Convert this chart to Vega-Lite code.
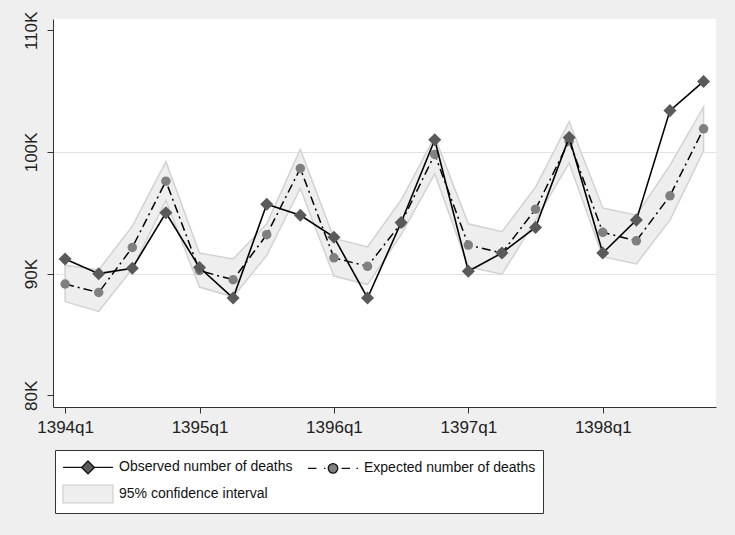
{
  "$schema": "https://vega.github.io/schema/vega-lite/v6.json",
  "width": 663,
  "height": 388,
  "autosize": {"type": "none"},
  "padding": {"left": 53, "top": 19, "right": 19, "bottom": 128},
  "background": "#efefef",
  "view": {"fill": "white", "stroke": null},
  "config": {"view": {"fill": "white", "stroke": null}, "font": "Liberation Sans"},
  "datasets": {
    "series": [
      {"i": 0, "series": "Expected number of deaths", "value": 89150},
      {"i": 1, "series": "Expected number of deaths", "value": 88450},
      {"i": 2, "series": "Expected number of deaths", "value": 92150},
      {"i": 3, "series": "Expected number of deaths", "value": 97600},
      {"i": 4, "series": "Expected number of deaths", "value": 90250},
      {"i": 5, "series": "Expected number of deaths", "value": 89500},
      {"i": 6, "series": "Expected number of deaths", "value": 93200},
      {"i": 7, "series": "Expected number of deaths", "value": 98650},
      {"i": 8, "series": "Expected number of deaths", "value": 91300},
      {"i": 9, "series": "Expected number of deaths", "value": 90600},
      {"i": 10, "series": "Expected number of deaths", "value": 94150},
      {"i": 11, "series": "Expected number of deaths", "value": 99800},
      {"i": 12, "series": "Expected number of deaths", "value": 92350},
      {"i": 13, "series": "Expected number of deaths", "value": 91700},
      {"i": 14, "series": "Expected number of deaths", "value": 95300},
      {"i": 15, "series": "Expected number of deaths", "value": 100900},
      {"i": 16, "series": "Expected number of deaths", "value": 93400},
      {"i": 17, "series": "Expected number of deaths", "value": 92700},
      {"i": 18, "series": "Expected number of deaths", "value": 96400},
      {"i": 19, "series": "Expected number of deaths", "value": 101900},
      {"i": 0, "series": "Observed number of deaths", "value": 91200},
      {"i": 1, "series": "Observed number of deaths", "value": 90000},
      {"i": 2, "series": "Observed number of deaths", "value": 90450},
      {"i": 3, "series": "Observed number of deaths", "value": 95000},
      {"i": 4, "series": "Observed number of deaths", "value": 90500},
      {"i": 5, "series": "Observed number of deaths", "value": 88000},
      {"i": 6, "series": "Observed number of deaths", "value": 95700},
      {"i": 7, "series": "Observed number of deaths", "value": 94800},
      {"i": 8, "series": "Observed number of deaths", "value": 93000},
      {"i": 9, "series": "Observed number of deaths", "value": 88000},
      {"i": 10, "series": "Observed number of deaths", "value": 94200},
      {"i": 11, "series": "Observed number of deaths", "value": 101000},
      {"i": 12, "series": "Observed number of deaths", "value": 90200},
      {"i": 13, "series": "Observed number of deaths", "value": 91700},
      {"i": 14, "series": "Observed number of deaths", "value": 93800},
      {"i": 15, "series": "Observed number of deaths", "value": 101200},
      {"i": 16, "series": "Observed number of deaths", "value": 91700},
      {"i": 17, "series": "Observed number of deaths", "value": 94400},
      {"i": 18, "series": "Observed number of deaths", "value": 103400},
      {"i": 19, "series": "Observed number of deaths", "value": 105800}
    ],
    "band": [
      {"i": 0, "lower": 87700, "upper": 90700},
      {"i": 1, "lower": 86900, "upper": 90300},
      {"i": 2, "lower": 90400, "upper": 93900},
      {"i": 3, "lower": 96000, "upper": 99200},
      {"i": 4, "lower": 88900, "upper": 91700},
      {"i": 5, "lower": 88100, "upper": 91200},
      {"i": 6, "lower": 91500, "upper": 94100},
      {"i": 7, "lower": 97000, "upper": 100200},
      {"i": 8, "lower": 89800, "upper": 92900},
      {"i": 9, "lower": 89100, "upper": 92200},
      {"i": 10, "lower": 93200, "upper": 96050},
      {"i": 11, "lower": 98200, "upper": 101250},
      {"i": 12, "lower": 90550, "upper": 94100},
      {"i": 13, "lower": 89950, "upper": 93450},
      {"i": 14, "lower": 94400, "upper": 97100},
      {"i": 15, "lower": 99100, "upper": 102500},
      {"i": 16, "lower": 91400, "upper": 95400},
      {"i": 17, "lower": 90800, "upper": 94800},
      {"i": 18, "lower": 94400, "upper": 98900},
      {"i": 19, "lower": 100100, "upper": 103700}
    ]
  },
  "layer": [
    {
      "data": {"name": "band"},
      "mark": {"type": "area", "fill": "#eeeeee", "stroke": "#d2d2d2", "strokeWidth": 1.5, "opacity": 1},
      "encoding": {
        "x": {
          "field": "i", "type": "quantitative",
          "scale": {"domain": [-0.36, 19.37], "nice": false, "zero": false},
          "axis": {
            "values": [0, 4, 8, 12, 16],
            "labelExpr": "'' + (1394 + datum.value / 4) + 'q1'",
            "title": null, "grid": false, "tickSize": 6,
            "labelFontSize": 17, "labelColor": "#222", "labelFont": "Liberation Sans",
            "domainColor": "#333", "tickColor": "#333", "labelPadding": 6
          }
        },
        "y": {
          "field": "lower", "type": "quantitative",
          "scale": {"domain": [79040, 110930], "nice": false, "zero": false},
          "axis": {
            "values": [80000, 90000, 100000, 110000],
            "labelExpr": "(datum.value / 1000) + 'K'",
            "title": null, "tickSize": 6,
            "labelAngle": 270, "labelAlign": "center", "labelBaseline": "bottom", "labelPadding": 7,
            "labelFontSize": 17, "labelColor": "#222", "labelFont": "Liberation Sans",
            "domainColor": "#333", "tickColor": "#333",
            "grid": true, "gridColor": "#e2e2e2",
            "gridOpacity": {"condition": {"test": "datum.value === 90000 || datum.value === 100000", "value": 1}, "value": 0}
          }
        },
        "y2": {"field": "upper"}
      }
    },
    {
      "data": {"name": "series"},
      "transform": [{"filter": "datum.series === 'Expected number of deaths'"}],
      "mark": {"type": "line", "color": "black", "strokeWidth": 1.5, "strokeDash": [9, 4, 2, 4]},
      "encoding": {
        "x": {"field": "i", "type": "quantitative"},
        "y": {"field": "value", "type": "quantitative"}
      }
    },
    {
      "data": {"name": "series"},
      "transform": [{"filter": "datum.series === 'Expected number of deaths'"}],
      "mark": {"type": "point", "shape": "circle", "filled": true, "opacity": 1, "color": "#808080", "size": 90},
      "encoding": {
        "x": {"field": "i", "type": "quantitative"},
        "y": {"field": "value", "type": "quantitative"}
      }
    },
    {
      "data": {"name": "series"},
      "transform": [{"filter": "datum.series === 'Observed number of deaths'"}],
      "mark": {"type": "line", "color": "black", "strokeWidth": 1.6},
      "encoding": {
        "x": {"field": "i", "type": "quantitative"},
        "y": {"field": "value", "type": "quantitative"}
      }
    },
    {
      "data": {"name": "series"},
      "transform": [{"filter": "datum.series === 'Observed number of deaths'"}],
      "mark": {"type": "point", "shape": "diamond", "filled": true, "opacity": 1, "color": "#5a5a5a", "size": 170},
      "encoding": {
        "x": {"field": "i", "type": "quantitative"},
        "y": {"field": "value", "type": "quantitative"}
      }
    },
    {
      "data": {"name": "series"},
      "transform": [{"filter": "datum.series === 'legend only'"}],
      "mark": {"type": "point", "filled": true, "opacity": 1},
      "encoding": {
        "x": {"field": "i", "type": "quantitative"},
        "y": {"field": "value", "type": "quantitative"},
        "fill": {
          "field": "series", "type": "nominal",
          "scale": {"domain": ["Observed number of deaths", "Expected number of deaths", "95% confidence interval"], "range": ["#5a5a5a", "#808080", "#eeeeee"]},
          "legend": {
            "orient": "none", "legendX": 2, "legendY": 431,
            "title": null, "columns": 2, "direction": "horizontal",
            "strokeColor": "#333", "fillColor": "white", "padding": 7,
            "symbolSize": 324, "symbolOffset": 16, "labelOffset": 21,
            "symbolOpacity": 1, "symbolStrokeWidth": 1.3,
            "labelFontSize": 14, "labelFont": "Liberation Sans", "labelColor": "#111", "labelLimit": 400,
            "columnPadding": 12, "rowPadding": 5
          }
        },
        "stroke": {
          "field": "series", "type": "nominal",
          "scale": {"domain": ["Observed number of deaths", "Expected number of deaths", "95% confidence interval"], "range": ["#111111", "#111111", "#d2d2d2"]}
        },
        "shape": {
          "field": "series", "type": "nominal",
          "scale": {
            "domain": ["Observed number of deaths", "Expected number of deaths", "95% confidence interval"],
            "range": [
              "M-2.78,0H-0.72M0.72,0H2.78M0,-0.72L0.72,0L0,0.72L-0.72,0Z",
              "M-2.78,0H-1.83M-1,0H-0.83M0.95,0H1.89M2.61,0H2.78M-0.53,0A0.53,0.53 0 1,0 0.53,0A0.53,0.53 0 1,0 -0.53,0Z",
              "M-2.78,-0.98H2.78V0.98H-2.78Z"
            ]
          }
        }
      }
    }
  ]
}
